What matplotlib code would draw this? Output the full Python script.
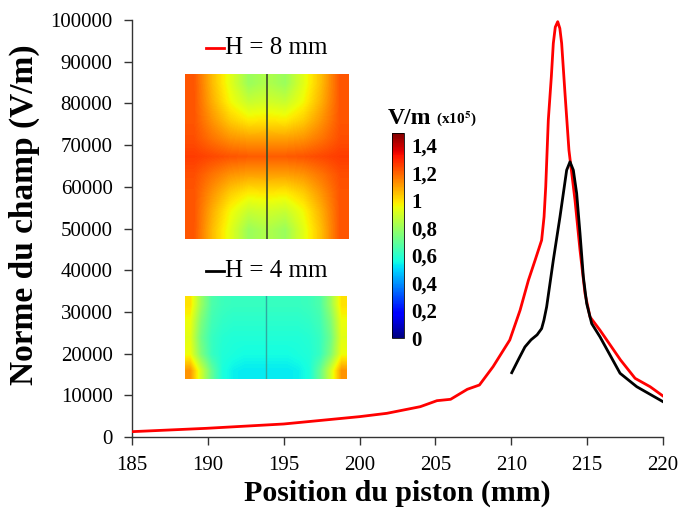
import numpy as np
import matplotlib
matplotlib.use("Agg")
import matplotlib.pyplot as plt

# ---- Data ----
x_h8 = [185.0, 189.9, 195.0, 200.0, 201.8, 204.0, 205.1, 206.0, 207.1, 207.9, 208.8, 209.9,
        210.58, 211.13, 211.57, 212.0, 212.16, 212.27, 212.44, 212.64, 212.77, 212.9, 213.06,
        213.2, 213.32, 213.54, 213.8, 214.2, 214.53, 214.86, 215.19, 215.85, 217.2, 218.16,
        219.15, 220.0]
y_h8 = [1280, 2080, 3120, 4880, 5680, 7270, 8710, 9040, 11440, 12470, 16870, 23260,
        30400, 37600, 42400, 47200, 52800, 60000, 76000, 86400, 94400, 98300, 99600,
        98000, 94400, 82400, 68800, 56800, 44800, 34400, 28800, 25600, 18470, 14070,
        12060, 9830]

x_h4 = [210.03, 210.5, 210.9, 211.3, 211.7, 212.0, 212.15, 212.33, 212.77, 213.21, 213.65,
        213.87, 214.09, 214.31, 214.53, 214.75, 214.97, 215.3, 215.85, 217.17, 218.27, 220.0]
y_h4 = [15420, 18800, 21600, 23300, 24500, 26000, 28000, 31200, 42400, 52800, 64000,
        66000, 64000, 58400, 48800, 38400, 32000, 27200, 24000, 15280, 12060, 8470]

labels = ["H = 8 mm", "H = 4 mm"]
cbar_ticks = [0, 0.2, 0.4, 0.6, 0.8, 1.0, 1.2, 1.4]
cbar_ticklabels = ["0", "0,2", "0,4", "0,6", "0,8", "1", "1,2", "1,4"]

# coarse field maps (x1e5 V/m), displayed with smooth interpolation
_h8_half = np.array([
    [1.22, 1.06, 0.93, 0.80, 0.84],
    [1.22, 1.08, 0.96, 0.88, 0.90],
    [1.22, 1.12, 1.03, 0.98, 0.99],
    [1.23, 1.17, 1.12, 1.10, 1.10],
    [1.26, 1.24, 1.22, 1.21, 1.21],
])
field_h8 = np.vstack([_h8_half, _h8_half[-2::-1]])
field_h8 = np.hstack([field_h8, field_h8[:, -2::-1]])

_h4_half = np.array([
    [1.00, 0.80, 0.66, 0.63, 0.62, 0.62, 0.62, 0.62],
    [0.95, 0.75, 0.64, 0.61, 0.60, 0.60, 0.60, 0.60],
    [0.93, 0.72, 0.62, 0.59, 0.58, 0.58, 0.58, 0.58],
    [0.95, 0.75, 0.62, 0.58, 0.57, 0.56, 0.56, 0.56],
    [1.12, 0.90, 0.70, 0.57, 0.54, 0.53, 0.53, 0.53],
])
field_h4 = np.hstack([_h4_half, _h4_half[:, -2::-1]])

serif = ["Liberation Serif", "DejaVu Serif"]
plt.rcParams["font.family"] = serif
plt.rcParams["mathtext.fontset"] = "stix"

W, H = 681, 508
fig = plt.figure(figsize=(W/100, H/100), dpi=100)
ax = fig.add_axes([132/W, 1 - 437/H, (663-132)/W, (437-20)/H])

ax.plot(x_h8, y_h8, color="#ff0000", lw=2.0, zorder=3, solid_joinstyle="round")
ax.plot(x_h4, y_h4, color="black", lw=2.0, zorder=3, solid_joinstyle="round")

ax.set_xlim(185, 220)
ax.set_ylim(0, 100000)
ax.set_xticks(np.arange(185, 221, 5))
ax.set_yticks(np.arange(0, 100001, 10000))
ax.tick_params(direction="out", length=6, width=1, labelsize=15, colors="#333333",
               labelcolor="black")
ax.tick_params(axis="x", pad=8)
ax.tick_params(axis="y", pad=8)
for s in ["top", "right"]:
    ax.spines[s].set_visible(False)
for s in ["left", "bottom"]:
    ax.spines[s].set_linewidth(1.0)
    ax.spines[s].set_color("#333333")

ax.set_xlabel("Position du piston (mm)", fontsize=21.5, fontweight="bold", va="center")
ax.xaxis.set_label_coords(0.5, (437-493)/417)
ax.set_ylabel("Norme du champ (V/m)", fontsize=24, fontweight="bold", va="center")
ax.yaxis.set_label_coords((24-132)/531, (437-215)/417)

# legend-like labels
def label(ypix, color, text):
    fig.add_artist(plt.Line2D([206/W, 224/W], [1 - ypix/H]*2, color=color, lw=2))
    fig.text(225/W, 1 - ypix/H, text, fontsize=18, va="center", ha="left")

label(48, "#ff0000", labels[0])
label(271, "black", labels[1])

cmap = plt.get_cmap("jet")
VMAX = 1.49
# top inset
ax1 = fig.add_axes([185/W, 1 - 239/H, (349-185)/W, (239-74)/H])
ax1.imshow(field_h8, cmap=cmap, vmin=0, vmax=VMAX, interpolation="bilinear", aspect="auto")
ax1.axvline((field_h8.shape[1]-1)/2, color="#3a4a28", lw=1.2)
ax1.set_axis_off()

# bottom inset
ax2 = fig.add_axes([185/W, 1 - 379/H, (347-185)/W, (379-296)/H])
ax2.imshow(field_h4, cmap=cmap, vmin=0, vmax=VMAX, interpolation="bilinear", aspect="auto")
ax2.axvline((field_h4.shape[1]-1)/2, color="#30a8a0", lw=1.0)
ax2.set_axis_off()

# colorbar
cax = fig.add_axes([392/W, 1 - 338/H, 12/W, (338-133)/H])
sm = matplotlib.cm.ScalarMappable(norm=matplotlib.colors.Normalize(0, VMAX), cmap=cmap)
cb = fig.colorbar(sm, cax=cax, ticks=cbar_ticks)
cb.ax.set_yticklabels(cbar_ticklabels)
cb.ax.tick_params(length=0, labelsize=15, pad=5)
for t in cb.ax.get_yticklabels():
    t.set_fontweight("bold")
cb.outline.set_linewidth(0.6)
fig.text(388/W, 1 - 118/H, "V/m", fontsize=17, fontweight="bold", va="center", ha="left")
fig.text(436/W, 1 - 119/H, r"(x10$^{\mathbf{5}}$)", fontsize=11, fontweight="bold",
         va="center", ha="left")

fig.savefig("out.png", dpi=100)
